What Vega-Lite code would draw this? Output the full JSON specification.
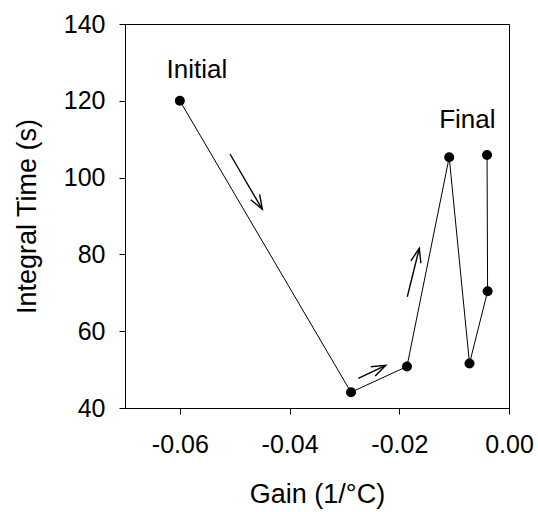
{
  "$schema": "https://vega.github.io/schema/vega-lite/v6.json",
  "width": 384,
  "height": 384,
  "autosize": "none",
  "padding": {"left": 125, "top": 24, "right": 29, "bottom": 104},
  "background": "white",
  "config": {
    "view": {"stroke": "black", "strokeWidth": 1},
    "font": "Liberation Sans",
    "axis": {
      "grid": false,
      "domainColor": "black",
      "tickColor": "black",
      "labelColor": "black",
      "titleColor": "black",
      "labelFont": "Liberation Sans",
      "titleFont": "Liberation Sans",
      "labelFontSize": 25,
      "titleFontSize": 27,
      "titleFontWeight": "normal",
      "tickSize": 6
    }
  },
  "datasets": {
    "path": [
      {"step": 1, "gain": -0.06, "ti": 120.0},
      {"step": 2, "gain": -0.0288, "ti": 44.1},
      {"step": 3, "gain": -0.0186, "ti": 50.8},
      {"step": 4, "gain": -0.0109, "ti": 105.3},
      {"step": 5, "gain": -0.0072, "ti": 51.6},
      {"step": 6, "gain": -0.0039, "ti": 70.4},
      {"step": 7, "gain": -0.0040, "ti": 105.9}
    ],
    "arrows": [
      {"seg": "a1s", "ord": 1, "gain": -0.05086, "ti": 106.15},
      {"seg": "a1s", "ord": 2, "gain": -0.04497, "ti": 91.74},
      {"seg": "a1h", "ord": 1, "gain": -0.04546, "ti": 95.60},
      {"seg": "a1h", "ord": 2, "gain": -0.04497, "ti": 91.74},
      {"seg": "a1h", "ord": 3, "gain": -0.04707, "ti": 94.24},
      {"seg": "a2s", "ord": 1, "gain": -0.02747, "ti": 47.73},
      {"seg": "a2s", "ord": 2, "gain": -0.02247, "ti": 51.12},
      {"seg": "a2h", "ord": 1, "gain": -0.02439, "ti": 48.33},
      {"seg": "a2h", "ord": 2, "gain": -0.02247, "ti": 51.12},
      {"seg": "a2h", "ord": 3, "gain": -0.02519, "ti": 50.76},
      {"seg": "a3s", "ord": 1, "gain": -0.01854, "ti": 68.98},
      {"seg": "a3s", "ord": 2, "gain": -0.01635, "ti": 81.59},
      {"seg": "a3h", "ord": 1, "gain": -0.01606, "ti": 77.71},
      {"seg": "a3h", "ord": 2, "gain": -0.01635, "ti": 81.59},
      {"seg": "a3h", "ord": 3, "gain": -0.01788, "ti": 78.33}
    ],
    "labels": [
      {"label": "Initial", "gain": -0.0569, "ti": 125.9},
      {"label": "Final", "gain": -0.0076, "ti": 112.8}
    ]
  },
  "encoding": {
    "x": {
      "field": "gain",
      "type": "quantitative",
      "scale": {"domain": [-0.07, 0], "nice": false, "zero": false},
      "axis": {
        "title": "Gain (1/°C)",
        "values": [-0.06, -0.04, -0.02, 0],
        "labelExpr": "replace(format(datum.value, '.2f'), '\u2212', '-')",
        "labelFlush": false,
        "labelOverlap": false,
        "labelPadding": 18,
        "titlePadding": 24
      }
    },
    "y": {
      "field": "ti",
      "type": "quantitative",
      "scale": {"domain": [40, 140], "nice": false, "zero": false},
      "axis": {
        "title": "Integral Time (s)",
        "values": [40, 60, 80, 100, 120, 140],
        "labelFlush": false,
        "labelOverlap": false,
        "labelPadding": 14,
        "titlePadding": 22
      }
    }
  },
  "layer": [
    {
      "data": {"name": "path"},
      "mark": {"type": "line", "color": "black", "strokeWidth": 1},
      "encoding": {"order": {"field": "step", "type": "quantitative"}}
    },
    {
      "data": {"name": "path"},
      "mark": {"type": "point", "shape": "circle", "filled": true, "color": "black", "opacity": 1, "size": 100}
    },
    {
      "data": {"name": "arrows"},
      "mark": {"type": "line", "color": "black", "strokeWidth": 1.4},
      "encoding": {
        "detail": {"field": "seg", "type": "nominal"},
        "order": {"field": "ord", "type": "quantitative"}
      }
    },
    {
      "data": {"name": "labels"},
      "mark": {"type": "text", "font": "Liberation Sans", "fontSize": 26, "align": "center", "baseline": "alphabetic", "color": "black"},
      "encoding": {"text": {"field": "label", "type": "nominal"}}
    }
  ]
}
